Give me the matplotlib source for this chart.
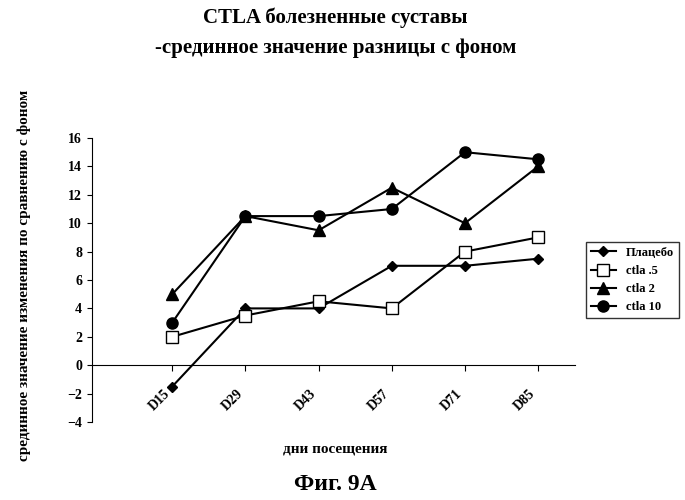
import matplotlib
matplotlib.use("Agg")
import matplotlib.pyplot as plt

days = ["D15", "D29", "D43", "D57", "D71", "D85"]
placebo = [-1.5, 4, 4, 7, 7, 7.5]
ctla_05 = [2, 3.5, 4.5, 4, 8, 9]
ctla_2 = [5, 10.5, 9.5, 12.5, 10, 14]
ctla_10 = [3, 10.5, 10.5, 11, 15, 14.5]

plt.rcParams["font.family"] = "Liberation Serif"
fig = plt.figure(figsize=(6.85, 5), dpi=100)
ax = fig.add_axes([0.134, 0.156, 0.705, 0.568])
x = list(range(len(days)))

ax.plot(x, placebo, "k-", marker="D", ms=5, lw=1.5, label="Плацебо")
ax.plot(x, ctla_05, "k-", marker="s", ms=8, mfc="white", lw=1.5, label="ctla .5")
ax.plot(x, ctla_2, "k-", marker="^", ms=8, lw=1.5, label="ctla 2")
ax.plot(x, ctla_10, "k-", marker="o", ms=8, lw=1.5, label="ctla 10")

ax.set_xlim(-1.1, 5.5)
ax.set_ylim(-4, 16)
ax.set_yticks(range(-4, 17, 2))
ax.spines["top"].set_visible(False)
ax.spines["right"].set_visible(False)
ax.spines["bottom"].set_position(("data", 0))
ax.set_xticks(x)
ax.set_xticklabels(days, rotation=45, ha="right", fontsize=10, fontweight="bold")
ax.tick_params(axis="x", pad=12, length=4)
ax.tick_params(axis="y", labelsize=10)
for t in ax.get_yticklabels():
    t.set_fontweight("bold")

fig.text(0.49, 0.095, "дни посещения", ha="center", fontsize=11, fontweight="bold")
fig.text(0.035, 0.45, "срединное значение изменения по сравнению с фоном",
         rotation=90, ha="center", va="center", fontsize=11, fontweight="bold")
fig.text(0.49, 0.955, "CTLA болезненные суставы", ha="center", fontsize=15, fontweight="bold")
fig.text(0.49, 0.895, "-срединное значение разницы с фоном", ha="center", fontsize=15, fontweight="bold")
fig.text(0.49, 0.02, "Фиг. 9A", ha="center", fontsize=17, fontweight="bold")

ax.legend(loc="center left", bbox_to_anchor=(1.01, 0.5), frameon=True, fancybox=False,
          edgecolor="black", prop={"size": 9, "weight": "bold", "family": "Liberation Serif"})

fig.savefig("out.png", dpi=100)
